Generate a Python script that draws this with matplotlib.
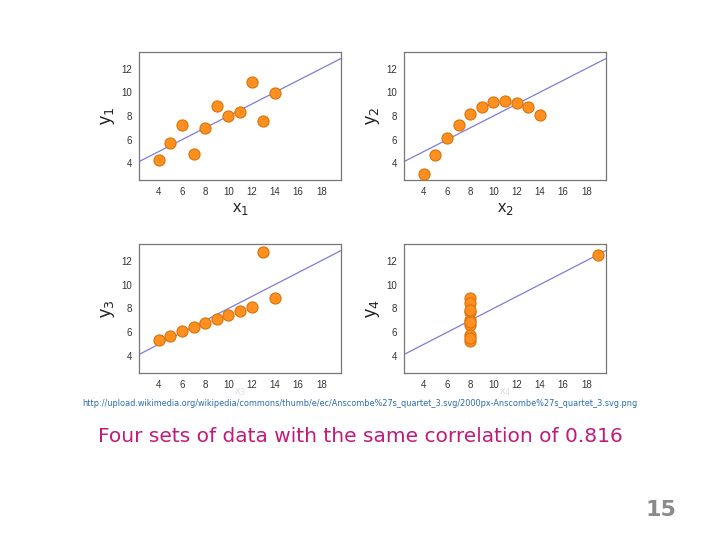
import matplotlib
matplotlib.use("Agg")
import matplotlib.pyplot as plt

# Anscombe's quartet
x123 = [10, 8, 13, 9, 11, 14, 6, 4, 12, 7, 5]
y1 = [8.04, 6.95, 7.58, 8.81, 8.33, 9.96, 7.24, 4.26, 10.84, 4.82, 5.68]
y2 = [9.14, 8.14, 8.74, 8.77, 9.26, 8.10, 6.13, 3.10, 9.13, 7.26, 4.74]
y3 = [7.46, 6.77, 12.74, 7.11, 7.81, 8.84, 6.08, 5.39, 8.15, 6.42, 5.73]
x4 = [8, 8, 8, 8, 8, 8, 8, 19, 8, 8, 8]
y4 = [6.58, 5.76, 7.71, 8.84, 8.47, 7.04, 5.25, 12.50, 5.56, 7.91, 6.89]

fit_intercept = 3.0
fit_slope = 0.5

xticks = [4, 6, 8, 10, 12, 14, 16, 18]
yticks = [4, 6, 8, 10, 12]

W, H = 720, 540
fig = plt.figure(figsize=(7.2, 5.4), dpi=100)
fig.patch.set_facecolor("white")


def px_axes(x0, y0, x1, y1_):
    return fig.add_axes([x0 / W, 1 - y1_ / H, (x1 - x0) / W, (y1_ - y0) / H])


panels = [
    (x123, y1, "1", (139, 52, 341, 180), True),
    (x123, y2, "2", (404, 52, 606, 180), True),
    (x123, y3, "3", (139, 244, 341, 373), False),
    (x4, y4, "4", (404, 244, 606, 373), False),
]

for xs, ys, idx, box, dark_xlabel in panels:
    ax = px_axes(*box)
    ax.set_xlim(2.3, 19.7)
    ax.set_ylim(2.6, 13.4)
    lx = [2.3, 19.7]
    ax.plot(lx, [fit_intercept + fit_slope * v for v in lx],
            color="#7c7cd8", lw=0.9, zorder=2)
    ax.scatter(xs, ys, s=64, facecolor="#ff9020", edgecolor="#d9730a",
               linewidth=0.8, zorder=3)
    ax.set_xticks(xticks)
    ax.set_yticks(yticks)
    ax.tick_params(length=0, pad=5, labelsize=7, labelcolor="#333333",
                   labelfontfamily="Liberation Sans")
    for sp in ax.spines.values():
        sp.set_color("#777777")
        sp.set_linewidth(0.9)
    ax.set_ylabel("y$_{%s}$" % idx, fontsize=13, family="Liberation Sans",
                  color="#222222", labelpad=3)
    if dark_xlabel:
        ax.set_xlabel("x$_{%s}$" % idx, fontsize=12, family="Liberation Sans",
                      color="#222222", labelpad=3)
    else:
        # faint label just above the source line
        ax.set_xlabel("x$_{%s}$" % idx, fontsize=8, family="Liberation Sans",
                      color="#dddddd", va="center")
        ax.xaxis.set_label_coords(0.5, -0.145)

fig.text(360 / W, 1 - 404 / H,
         "http://upload.wikimedia.org/wikipedia/commons/thumb/e/ec/"
         "Anscombe%27s_quartet_3.svg/2000px-Anscombe%27s_quartet_3.svg.png",
         ha="center", va="center", fontsize=5.9, color="#2b6cb0")

fig.text(360 / W, 1 - 437 / H,
         "Four sets of data with the same correlation of 0.816",
         ha="center", va="center", fontsize=14.5, color="#c4197c")

fig.text(661 / W, 1 - 510 / H, "15", ha="center", va="center",
         fontsize=16, fontweight="bold", color="#8a8a8a")

fig.savefig("out.png", dpi=100)
